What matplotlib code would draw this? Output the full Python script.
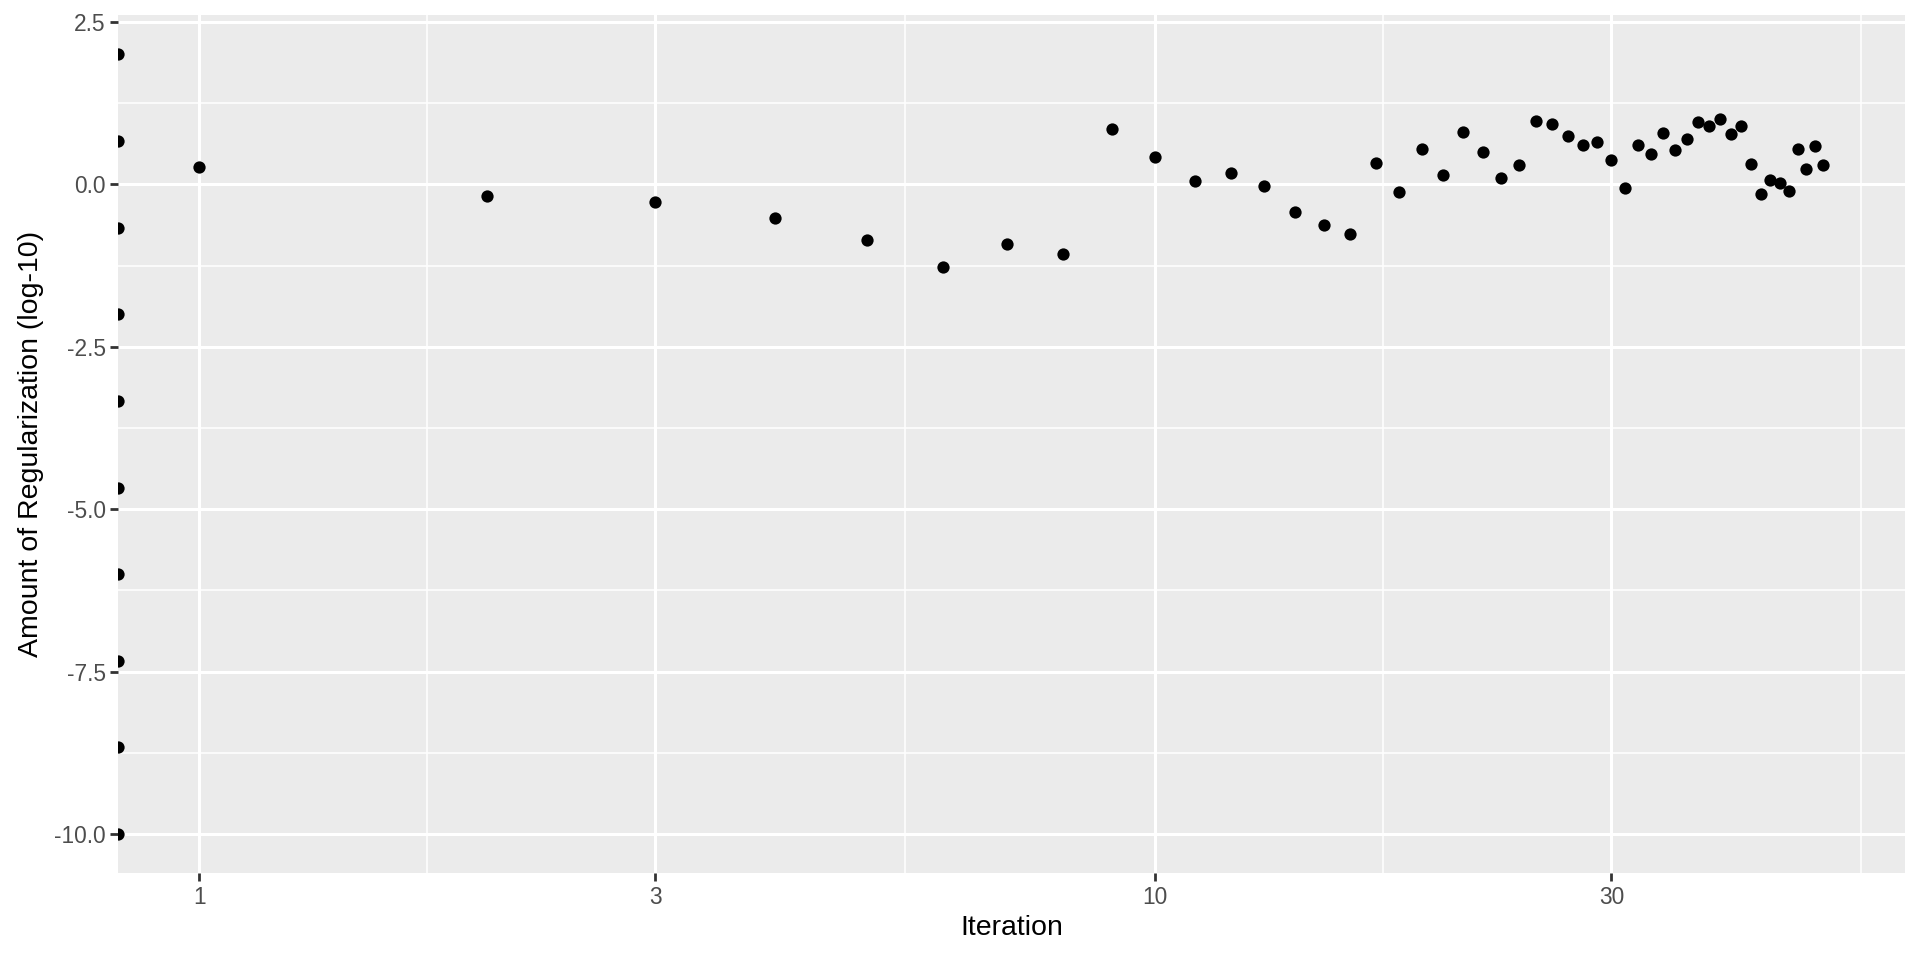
import matplotlib
matplotlib.use("Agg")
import matplotlib.pyplot as plt
import numpy as np

plt.rcParams['font.family'] = ['Liberation Sans', 'DejaVu Sans']

# iteration 0 sits at -Inf on a log axis; ggplot draws those at the panel edge
start_values = [2.0, 0.667, -0.667, -2.0, -3.333, -4.667, -6.0, -7.333, -8.667, -10.0]

iterations = list(range(1, 51))
reg_values = [0.27, -0.18, -0.28, -0.52, -0.85, -1.28, -0.92, -1.08, 0.85, 0.42,
              0.05, 0.18, -0.03, -0.43, -0.62, -0.76, 0.33, -0.12, 0.55, 0.14,
              0.80, 0.50, 0.10, 0.30, 0.97, 0.93, 0.74, 0.61, 0.65, 0.38,
              -0.06, 0.60, 0.46, 0.79, 0.53, 0.70, 0.96, 0.90, 1.00, 0.77,
              0.90, 0.32, -0.15, 0.07, 0.02, -0.10, 0.54, 0.24, 0.59, 0.29]

x_breaks = [1, 3, 10, 30]
y_breaks = [2.5, 0.0, -2.5, -5.0, -7.5, -10.0]

fig = plt.figure(figsize=(19.2, 9.6), dpi=100)
ax = fig.add_axes([0.0615, 0.0906, 0.9305, 0.8934])
ax.set_facecolor("#EBEBEB")
ax.set_xscale("log")

# limits with ggplot's 5% expansion
lx0, lx1 = np.log10(min(iterations)), np.log10(max(iterations))
pad = (lx1 - lx0) * 0.05
xmin, xmax = 10 ** (lx0 - pad), 10 ** (lx1 + pad)
all_y = start_values + reg_values
ypad = (max(all_y) - min(all_y)) * 0.05
ax.set_xlim(xmin, xmax)
ax.set_ylim(min(all_y) - ypad, max(all_y) + ypad)

# minor gridlines halfway between majors (next break past 30 would be 100)
lb = np.log10(x_breaks + [100])
x_minor = [10 ** ((lb[i] + lb[i + 1]) / 2) for i in range(len(lb) - 1)]
y_minor = [v + 1.25 for v in y_breaks]
for xm in x_minor:
    ax.axvline(xm, color="white", lw=1.1, zorder=1)
for ym in y_minor:
    ax.axhline(ym, color="white", lw=1.1, zorder=1)
for xb in x_breaks:
    ax.axvline(xb, color="white", lw=2.2, zorder=1)
for yb in y_breaks:
    ax.axhline(yb, color="white", lw=2.2, zorder=1)

ax.scatter([xmin] * len(start_values), start_values, s=78, color="black", zorder=3, linewidths=0)
ax.scatter(iterations, reg_values, s=78, color="black", zorder=3, linewidths=0)

ax.set_xticks(x_breaks)
ax.set_xticklabels([str(b) for b in x_breaks])
ax.xaxis.set_minor_locator(matplotlib.ticker.NullLocator())
ax.set_yticks(y_breaks)
ax.set_yticklabels([f"{b:.1f}" for b in y_breaks])
ax.tick_params(axis="both", which="major", length=6, width=2, color="#333333",
               labelcolor="#4D4D4D", labelsize=16.4, pad=3)

for sp in ax.spines.values():
    sp.set_visible(False)

ax.set_xlabel("Iteration", fontsize=20.5, color="black", labelpad=5)
ax.set_ylabel("Amount of Regularization (log-10)", fontsize=20.5, color="black", labelpad=7)

fig.savefig("out.png", dpi=100)
